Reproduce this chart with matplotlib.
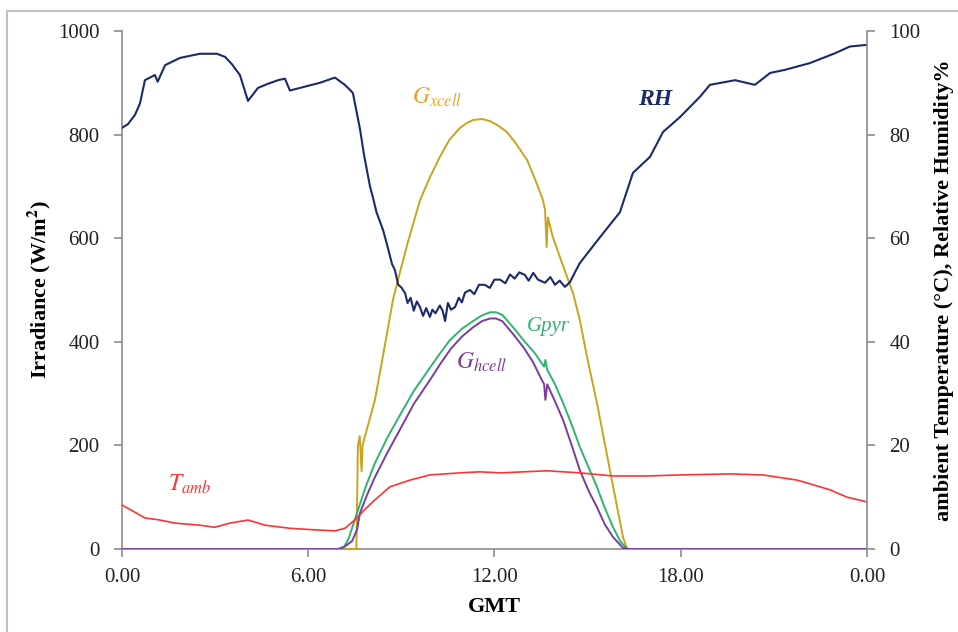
import matplotlib.pyplot as plt
from matplotlib.lines import Line2D

plt.rcParams['font.family'] = 'Liberation Serif'
plt.rcParams['mathtext.fontset'] = 'stix'

# relative humidity (%), right axis
rh_hours = [0.00, 0.19, 0.42, 0.58, 0.74, 0.90, 1.06, 1.15, 1.39, 1.87, 2.51, 3.06,
            3.32, 3.54, 3.80, 4.06, 4.38, 4.70, 5.03, 5.25, 5.41, 5.73, 6.38, 6.86,
            7.18, 7.35, 7.44, 7.67, 7.80, 7.99, 8.10, 8.20, 8.41, 8.55, 8.70, 8.79,
            8.90, 9.00, 9.12, 9.20, 9.30, 9.40, 9.50, 9.60, 9.70, 9.80, 9.92, 10.00,
            10.10, 10.24, 10.33, 10.41, 10.50, 10.60, 10.73, 10.85, 10.95, 11.05, 11.21,
            11.35, 11.50, 11.69, 11.85, 12.00, 12.18, 12.35, 12.50, 12.65, 12.80, 12.98,
            13.10, 13.25, 13.40, 13.63, 13.80, 13.95, 14.10, 14.27, 14.43, 14.60, 14.75,
            15.40, 16.04, 16.46, 17.01, 17.43, 17.98, 18.62, 18.94, 19.75, 20.39, 20.88,
            21.36, 22.16, 22.97, 23.45, 23.97]
rh_values = [81.3, 82.0, 83.8, 86.0, 90.5, 91.0, 91.5, 90.2, 93.4, 94.8, 95.6, 95.6,
             95.0, 93.6, 91.5, 86.5, 89.0, 89.8, 90.5, 90.8, 88.5, 89.0, 90.0, 91.0,
             89.6, 88.6, 88.0, 81.0, 76.0, 70.0, 67.5, 65.0, 61.6, 58.5, 55.0, 53.9,
             51.0, 50.5, 49.4, 47.5, 48.5, 46.0, 47.8, 46.7, 45.0, 46.5, 44.8, 46.2,
             45.5, 47.0, 46.0, 44.0, 47.5, 46.2, 46.7, 48.5, 47.6, 49.5, 50.0,
             49.2, 51.0, 51.0, 50.4, 52.0, 52.0, 51.3, 53.0, 52.2, 53.4, 52.9,
             51.8, 53.3, 52.0, 51.4, 52.5, 51.0, 51.8, 50.6, 51.5, 53.5, 55.2,
             60.2, 65.0, 72.6, 75.7, 80.5, 83.4, 87.3, 89.6, 90.5, 89.6, 91.9,
             92.5, 93.8, 95.7, 97.0, 97.3]

# ambient temperature (deg C), right axis
tamb_hours = [0.00, 0.42, 0.74, 1.22, 1.71, 2.51, 2.99, 3.48, 4.06, 4.61, 5.41, 6.21,
              6.86, 7.18, 7.50, 7.80, 8.15, 8.63, 9.28, 9.92, 10.89, 11.53, 12.18, 13.70,
              14.75, 15.82, 16.91, 18.00, 19.60, 20.65, 21.75, 22.27, 22.82, 23.36, 24.00]
tamb_values = [8.5, 7.1, 6.0, 5.6, 5.0, 4.6, 4.2, 5.0, 5.6, 4.6, 4.0, 3.7,
               3.5, 4.0, 5.6, 7.5, 9.5, 12.0, 13.3, 14.3, 14.7, 14.9, 14.7, 15.1,
               14.7, 14.1, 14.1, 14.3, 14.5, 14.3, 13.3, 12.4, 11.4, 10.0, 9.1]

# irradiance on the cells and the pyranometer (W/m2), left axis
gx_hours = [0.00, 7.55, 7.57, 7.60, 7.66, 7.72, 7.75, 8.00, 8.15, 8.40, 8.73, 8.95,
            9.20, 9.60, 9.90, 10.24, 10.55, 10.89, 11.10, 11.30, 11.60, 11.86, 12.10,
            12.40, 12.70, 13.05, 13.30, 13.56, 13.63, 13.68, 13.72, 13.88, 14.20,
            14.53, 14.75, 14.98, 15.30, 15.72, 16.14, 16.27, 24.00]
gx_values = [0, 0, 60, 200, 218, 150, 200, 255, 288, 370, 481, 533,
             590, 673, 715, 757, 790, 813, 822, 828, 830, 826, 818,
             805, 782, 751, 715, 674, 654, 583, 640, 602, 548,
             494, 442, 371, 282, 152, 23, 0, 0]

gpyr_hours = [0.00, 7.12, 7.30, 7.57, 7.85, 8.15, 8.55, 8.95, 9.40, 9.92, 10.25, 10.56,
              10.95, 11.31, 11.60, 11.86, 12.05, 12.25, 12.60, 12.95, 13.30, 13.60,
              13.64, 13.70, 13.95, 14.21, 14.50, 14.75, 15.05, 15.30, 15.55, 15.82,
              16.05, 16.27, 24.00]
gpyr_values = [0, 0, 20, 69, 120, 166, 215, 258, 305, 350, 378, 403,
               425, 440, 451, 457, 457, 452, 428, 402, 378, 352,
               365, 346, 318, 282, 238, 197, 155, 120, 80, 42,
               15, 0, 0]

gh_hours = [0.00, 6.96, 7.18, 7.41, 7.57, 7.67, 7.90, 8.15, 8.55, 8.95, 9.40, 9.92,
            10.25, 10.60, 10.95, 11.31, 11.60, 11.86, 12.05, 12.25, 12.60, 12.95,
            13.25, 13.46, 13.60, 13.64, 13.70, 13.95, 14.21, 14.50, 14.75, 15.05,
            15.30, 15.55, 15.82, 16.14, 16.36, 24.00]
gh_values = [0, 0, 5, 15, 37, 70, 105, 139, 186, 230, 280, 326,
             357, 387, 410, 428, 440, 445, 445, 440, 415, 388,
             360, 334, 318, 288, 318, 285, 249, 198, 152, 110,
             81, 48, 23, 2, 0, 0]

x_ticks = [0, 6, 12, 18, 24]
x_labels = ['0.00', '6.00', '12.00', '18.00', '0.00']
left_ticks = [0, 200, 400, 600, 800, 1000]
right_ticks = [0, 20, 40, 60, 80, 100]

fig = plt.figure(figsize=(9.58, 6.32), dpi=100)
ax = fig.add_axes([0.1273, 0.1313, 0.7777, 0.8197])
ax2 = ax.twinx()

ax.plot(gx_hours, gx_values, color='#c9a41c', lw=1.4, zorder=3)
ax.plot(gpyr_hours, gpyr_values, color='#2db56f', lw=1.4, zorder=4)
ax.plot(gh_hours, gh_values, color='#7a3c9e', lw=1.4, zorder=5)
ax2.plot(rh_hours, rh_values, color='#1c2a6a', lw=1.5)
ax2.plot(tamb_hours, tamb_values, color='#ff3333', lw=1.2)

ax.set_xlim(0, 24)
ax.set_ylim(0, 1000)
ax2.set_ylim(0, 100)
ax.set_xticks(x_ticks)
ax.set_xticklabels(x_labels)
ax.set_yticks(left_ticks)
ax2.set_yticks(right_ticks)

for a in (ax, ax2):
    a.spines['top'].set_visible(False)
    for side in ('left', 'right', 'bottom'):
        a.spines[side].set_color('#8c8c8c')
        a.spines[side].set_linewidth(1.2)
    a.tick_params(colors='#8c8c8c', labelcolor='#222222', labelsize=15,
                  length=6, width=1.2, direction='out', pad=10)
ax.tick_params(axis='x', pad=8)
ax.spines['right'].set_visible(False)
ax2.spines['left'].set_visible(False)
ax2.spines['bottom'].set_visible(False)

ax.set_xlabel('GMT', fontsize=16, fontweight='bold', labelpad=7)
ax.set_ylabel('Irradiance (W/m$^{\\mathbf{2}}$)', fontsize=16, fontweight='bold', labelpad=4)
ax2.set_ylabel('ambient Temperature (°C), Relative Humidity%', fontsize=16,
               fontweight='bold', labelpad=10)

# curve labels
ax.text(10.15, 871, '$G_{xcell}$', color='#f0a028', fontsize=17, ha='center', va='center')
ax.text(17.17, 867, 'RH', color='#1c2a6a', fontsize=17, ha='center', va='center',
        style='italic', fontweight='bold')
ax.text(13.72, 429, 'Gpyr', color='#2db56f', fontsize=15, ha='center', va='center',
        style='italic')
ax.text(11.6, 361, '$G_{hcell}$', color='#7a3c9e', fontsize=17, ha='center', va='center')
ax.text(2.19, 125, '$T_{amb}$', color='#ff3333', fontsize=17, ha='center', va='center')

# light frame along the top and left edges
fig.add_artist(Line2D([7 / 958, 7 / 958], [0, 1 - 11 / 632], color='#c0c0c0', lw=1.5,
                      transform=fig.transFigure))
fig.add_artist(Line2D([7 / 958, 1], [1 - 11 / 632, 1 - 11 / 632], color='#c0c0c0', lw=1.5,
                      transform=fig.transFigure))

fig.savefig('out.png', dpi=100)
